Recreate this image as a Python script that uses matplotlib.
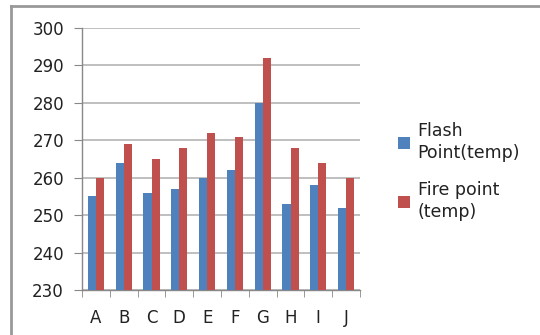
import matplotlib.pyplot as plt
import numpy as np
from matplotlib.lines import Line2D

categories = ["A", "B", "C", "D", "E", "F", "G", "H", "I", "J"]
flash_point = [255, 264, 256, 257, 260, 262, 280, 253, 258, 252]
fire_point = [260, 269, 265, 268, 272, 271, 292, 268, 264, 260]
labels = ["Flash\nPoint(temp)", "Fire point\n(temp)"]

blue = "#4F81BD"
red = "#C0504D"

fig = plt.figure(figsize=(5.4, 3.35), dpi=100)
ax = fig.add_axes([82 / 540, 45 / 335, 278 / 540, 262 / 335])

x = np.arange(len(categories))
w = 0.29
ax.bar(x - w / 2, flash_point, w, color=blue, label=labels[0], zorder=3)
ax.bar(x + w / 2, fire_point, w, color=red, label=labels[1], zorder=3)

ax.set_xlim(-0.5, len(categories) - 0.5)
ax.set_ylim(230, 300)
ax.set_yticks(range(230, 301, 10))
ax.set_xticks(x)
ax.set_xticklabels(categories)
ax.set_xticks(np.arange(-0.5, len(categories)), minor=True)
ax.tick_params(axis="x", which="major", length=0, pad=14, labelsize=12, labelcolor="#222222")
ax.tick_params(axis="x", which="minor", length=5, color="#888888")
ax.tick_params(axis="y", length=6, color="#888888", pad=7, labelsize=12, labelcolor="#222222")

ax.grid(axis="y", color="#b4b4b4", linewidth=1.2, zorder=0)
for s in ["top", "right"]:
    ax.spines[s].set_visible(False)
for s in ["left", "bottom"]:
    ax.spines[s].set_color("#888888")
    ax.spines[s].set_linewidth(1.0)

leg = ax.legend(loc="upper left", bbox_to_anchor=(382 / 540, 1 - 106 / 335),
                bbox_transform=fig.transFigure, frameon=False, fontsize=12.5,
                handlelength=0.7, handleheight=0.7, handletextpad=0.45,
                labelspacing=1.1)
for t in leg.get_texts():
    t.set_linespacing(1.3)
    t.set_color("#222222")

# outer chart frame
fig.add_artist(Line2D([11 / 540, 11 / 540], [0, 1 - 6 / 335],
                      transform=fig.transFigure, color="#999999", linewidth=2))
fig.add_artist(Line2D([11 / 540, 1], [1 - 6 / 335, 1 - 6 / 335],
                      transform=fig.transFigure, color="#999999", linewidth=2))

fig.savefig("out.png", dpi=100)
